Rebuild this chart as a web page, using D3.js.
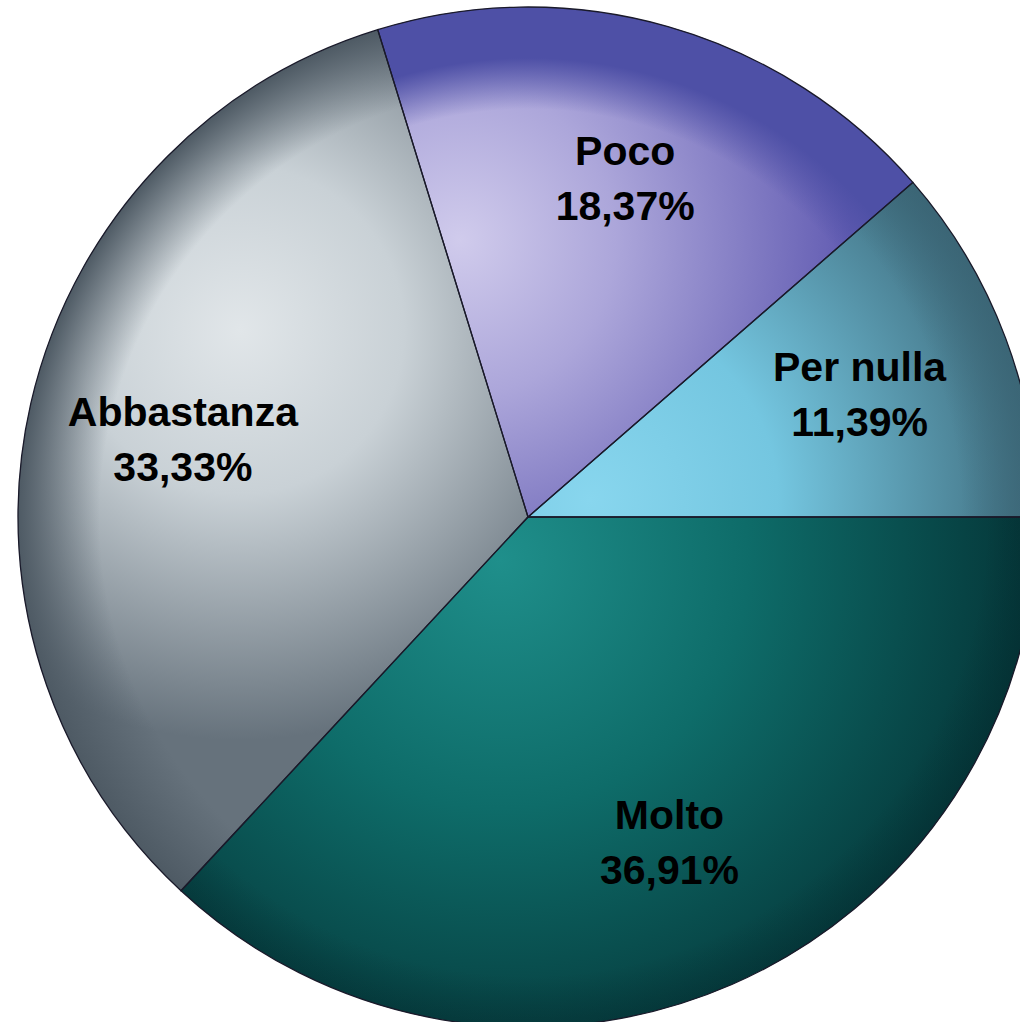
<!DOCTYPE html>
<html>
<head>
<meta charset="utf-8">
<script src="https://cdn.jsdelivr.net/npm/d3@7/dist/d3.min.js"></script>
<style>
  html, body { margin: 0; padding: 0; background: #fff; }
  svg { display: block; }
  .lbl { font-family: "Liberation Sans", Arial, sans-serif; font-weight: bold; font-size: 41px; fill: #000; }
</style>
</head>
<body>
<svg id="pie"></svg>
<script>
// data
var categories = ["Per nulla", "Poco", "Abbastanza", "Molto"];
var values = [11.39, 18.37, 33.33, 36.91];
var valueLabels = ["11,39%", "18,37%", "33,33%", "36,91%"];

// ----- setup -----
var width = 1020,
    height = 1022,
    cx = 528, cy = 517,
    radius = 510;

var svg = d3.select("#pie")
    .attr("width", width)
    .attr("height", height);

var defs = svg.append("defs");

// per slice shading, focus in page coords: [x, y, r, light, mid, dark]
var shades = [
  [590, 500, 470, "#88d6ee", "#74c6e0", "#3a6474"],
  [460, 240, 390, "#d0cbec", "#aca6da", "#625cb2"],
  [240, 330, 410, "#e1e6e9", "#c9d1d6", "#66727c"],
  [500, 560, 620, "#1f8f8b", "#0e6c69", "#02262a"]
];
// rim colour per slice: [colour, start offset, full offset, max opacity]
var rims = [
  ["#3a6474", 0.85, 1.0, 0.8],
  ["#4e50a6", 0.8, 0.9, 1],
  ["#4e5a64", 0.84, 1.0, 1],
  ["#02262a", 0.9, 1.0, 0.35]
];

shades.forEach(function(s, i) {
  var gr = defs.append("radialGradient")
      .attr("id", "g" + i)
      .attr("gradientUnits", "userSpaceOnUse")
      .attr("cx", s[0] - cx).attr("cy", s[1] - cy).attr("r", s[2]);
  gr.append("stop").attr("offset", 0).attr("stop-color", s[3]);
  gr.append("stop").attr("offset", 0.4).attr("stop-color", s[4]);
  gr.append("stop").attr("offset", 1).attr("stop-color", s[5]);
});

rims.forEach(function(s, i) {
  var gr = defs.append("radialGradient")
      .attr("id", "r" + i)
      .attr("gradientUnits", "userSpaceOnUse")
      .attr("cx", 0).attr("cy", 0).attr("r", radius);
  gr.append("stop").attr("offset", s[1]).attr("stop-color", s[0]).attr("stop-opacity", 0);
  gr.append("stop").attr("offset", s[2]).attr("stop-color", s[0]).attr("stop-opacity", s[3]);
});

var pie = d3.pie()
    .sort(null)
    .startAngle(Math.PI / 2)
    .endAngle(Math.PI / 2 - 2 * Math.PI);

var arc = d3.arc().innerRadius(0).outerRadius(radius);
var labelArc = d3.arc().innerRadius(354).outerRadius(354);

var arcs = pie(values);

var g = svg.append("g")
    .attr("transform", "translate(" + cx + "," + cy + ")");

g.selectAll("path.slice")
    .data(arcs)
  .enter().append("path")
    .attr("class", "slice")
    .attr("d", arc)
    .attr("fill", (d, i) => "url(#g" + i + ")");

g.selectAll("path.rim")
    .data(arcs)
  .enter().append("path")
    .attr("class", "rim")
    .attr("d", arc)
    .attr("fill", (d, i) => "url(#r" + i + ")");

g.selectAll("path.edge")
    .data(arcs)
  .enter().append("path")
    .attr("class", "edge")
    .attr("d", arc)
    .attr("fill", "none")
    .attr("stroke", "#1a1a2a")
    .attr("stroke-width", 1.3);

// labels
var lbl = g.selectAll("text.lbl")
    .data(arcs)
  .enter().append("text")
    .attr("class", "lbl")
    .attr("text-anchor", "middle")
    .attr("transform", d => "translate(" + labelArc.centroid(d) + ")");

lbl.append("tspan").attr("x", 0).attr("y", -12).text((d, i) => categories[i]);
lbl.append("tspan").attr("x", 0).attr("y", 43).text((d, i) => valueLabels[i]);
</script>
</body>
</html>
